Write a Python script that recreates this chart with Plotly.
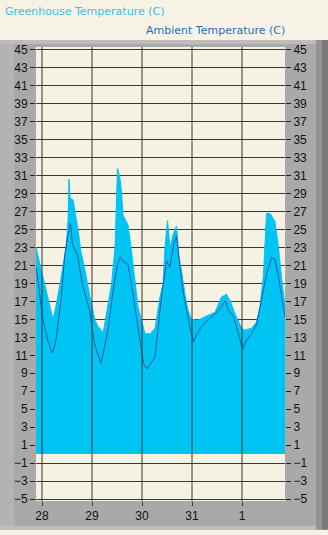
import plotly.graph_objects as go

# Greenhouse temperature (C), x in days of the window (28 = day 28)
gh_day = [27.88, 27.96, 28.08, 28.22, 28.28, 28.36, 28.48, 28.52, 28.54, 28.56, 28.62, 28.66,
          28.72, 28.78, 28.84, 28.96, 29.06, 29.12, 29.19, 29.22, 29.29, 29.39, 29.46, 29.49,
          29.51, 29.56, 29.59, 29.62, 29.69, 29.72, 29.79, 29.86, 29.92, 30.06, 30.16, 30.26,
          30.36, 30.42, 30.46, 30.51, 30.56, 30.62, 30.69, 30.74, 30.79, 30.86, 30.92, 30.99,
          31.12, 31.26, 31.39, 31.46, 31.59, 31.69, 31.76, 31.86, 31.96, 32.03, 32.19, 32.29,
          32.36, 32.43, 32.49, 32.56, 32.66, 32.73, 32.79, 32.86]
gh_temp = [23.0, 21.1, 18.5, 15.0, 16.5, 18.9, 23.0, 26.0, 30.6, 28.5, 28.3, 27.0,
           25.0, 22.5, 21.0, 17.5, 14.9, 14.2, 13.8, 13.4, 15.6, 18.9, 23.0, 29.2,
           31.8, 30.7, 29.2, 26.6, 25.9, 25.5, 22.6, 18.9, 16.4, 13.4, 13.4, 14.0,
           17.5, 18.9, 23.0, 26.0, 23.0, 24.4, 25.4, 21.9, 20.4, 17.8, 16.0, 15.0,
           14.9, 15.3, 15.6, 15.8, 17.5, 17.8, 17.1, 15.6, 14.4, 13.8, 14.0, 14.7,
           16.4, 20.0, 26.8, 26.8, 25.9, 23.0, 19.7, 16.5]

# Ambient temperature (C)
amb_day = [27.88, 27.91, 28.01, 28.11, 28.21, 28.28, 28.38, 28.45, 28.51, 28.57, 28.61, 28.71,
           28.81, 28.95, 29.05, 29.15, 29.18, 29.32, 29.42, 29.51, 29.56, 29.62, 29.72, 29.79,
           29.86, 29.96, 30.03, 30.10, 30.26, 30.33, 30.39, 30.49, 30.56, 30.63, 30.69, 30.76,
           30.83, 30.93, 31.03, 31.09, 31.19, 31.33, 31.46, 31.59, 31.66, 31.73, 31.83, 31.93,
           32.01, 32.09, 32.19, 32.29, 32.39, 32.49, 32.59, 32.66, 32.73, 32.79, 32.86]
amb_temp = [20.8, 19.7, 15.3, 12.7, 11.2, 12.7, 17.1, 21.9, 24.1, 25.7, 23.3, 22.2,
            18.9, 16.0, 12.3, 10.5, 10.1, 13.8, 18.2, 21.1, 21.9, 21.5, 21.1, 18.9,
            16.4, 12.3, 10.1, 9.5, 10.8, 14.5, 17.5, 21.5, 20.8, 23.3, 24.3, 20.8,
            17.8, 14.9, 12.5, 13.3, 14.2, 15.0, 15.6, 16.4, 17.1, 16.0, 15.3, 13.4,
            11.7, 12.7, 13.4, 14.4, 17.1, 20.0, 21.9, 21.7, 19.7, 17.8, 15.3]

x_ticks = [28, 29, 30, 31, 32]
x_labels = ["28", "29", "30", "31", "1"]
y_ticks = list(range(-5, 46, 2))

W, H = 328, 535
L, R, T, B = 36, 285, 47, 506
pw, ph = R - L, B - T


def px(x):
    return (x - L) / pw


def py(y):
    return (B - y) / ph


fig = go.Figure()
fig.add_trace(go.Scatter(x=gh_day, y=gh_temp, mode="lines", fill="tozeroy",
                         fillcolor="#00c4f4", line=dict(color="#00c4f4", width=1),
                         hoverinfo="skip", showlegend=False))
fig.add_trace(go.Scatter(x=amb_day, y=amb_temp, mode="lines",
                         line=dict(color="#1f5ca6", width=1),
                         hoverinfo="skip", showlegend=False))
fig.add_trace(go.Scatter(x=[gh_day[0]], y=[gh_temp[0]], yaxis="y2", mode="markers",
                         marker=dict(opacity=0), hoverinfo="skip", showlegend=False))

shapes = [
    # grey panel
    dict(type="rect", xref="paper", yref="paper", x0=px(0), x1=px(W), y0=py(H), y1=py(40),
         fillcolor="#a9a9a9", line=dict(width=0), layer="below"),
    dict(type="rect", xref="paper", yref="paper", x0=px(0), x1=px(W), y0=py(44), y1=py(40),
         fillcolor="#bdbdbd", line=dict(width=0), layer="below"),
    dict(type="rect", xref="paper", yref="paper", x0=px(0), x1=px(14), y0=py(H), y1=py(44),
         fillcolor="#b3b3b3", line=dict(width=0), layer="below"),
    dict(type="rect", xref="paper", yref="paper", x0=px(316), x1=px(322), y0=py(H), y1=py(40),
         fillcolor="#939393", line=dict(width=0), layer="below"),
    dict(type="rect", xref="paper", yref="paper", x0=px(322), x1=px(W), y0=py(H), y1=py(40),
         fillcolor="#7a7a7a", line=dict(width=0), layer="below"),
    dict(type="rect", xref="paper", yref="paper", x0=px(0), x1=px(316), y0=py(535), y1=py(531),
         fillcolor="#bcbcbc", line=dict(width=0), layer="below"),
    # plot background
    dict(type="rect", xref="paper", yref="paper", x0=0, x1=1, y0=0, y1=1,
         fillcolor="#f5f1e3", line=dict(width=0), layer="below"),
]
for d in x_ticks:
    shapes.append(dict(type="line", xref="x", yref="paper", x0=d, x1=d, y0=0, y1=1,
                       line=dict(color="#3a3630", width=1), layer="above"))
fig.update_layout(shapes=shapes)

tick_font = dict(family="Liberation Sans, Arial, sans-serif", size=12, color="#111111")
fig.update_layout(
    width=W, height=H,
    margin=dict(l=L, r=W - R, t=T, b=H - B, pad=0),
    paper_bgcolor="#f6f2e6",
    plot_bgcolor="rgba(0,0,0,0)",
    xaxis=dict(range=[27.88, 32.86], tickvals=x_ticks, ticktext=x_labels,
               ticks="outside", ticklen=4, tickcolor="#3a3630", showgrid=False,
               zeroline=False, showline=False, tickfont=tick_font, fixedrange=True),
    yaxis=dict(range=[-5.22, 45.33], tickvals=y_ticks, ticks="outside", ticklen=5,
               tickcolor="#222222", showgrid=True, gridcolor="#3a3630", gridwidth=1,
               zeroline=False, showline=False, tickfont=tick_font, fixedrange=True),
    yaxis2=dict(range=[-5.22, 45.33], tickvals=y_ticks, ticks="outside", ticklen=5,
                tickcolor="#222222", overlaying="y", side="right", showgrid=False,
                zeroline=False, showline=False, tickfont=tick_font, fixedrange=True),
    annotations=[
        dict(text="Greenhouse Temperature (C)", xref="paper", yref="paper",
             x=px(3), y=py(11), xanchor="left", yanchor="middle", showarrow=False,
             font=dict(family="DejaVu Sans, sans-serif", size=11, color="#35c2e6")),
        dict(text="Ambient Temperature (C)", xref="paper", yref="paper",
             x=px(287), y=py(30), xanchor="right", yanchor="middle", showarrow=False,
             font=dict(family="DejaVu Sans, sans-serif", size=11, color="#2b6eb4")),
    ],
)

fig.write_html("out.html", config={"displayModeBar": False})
